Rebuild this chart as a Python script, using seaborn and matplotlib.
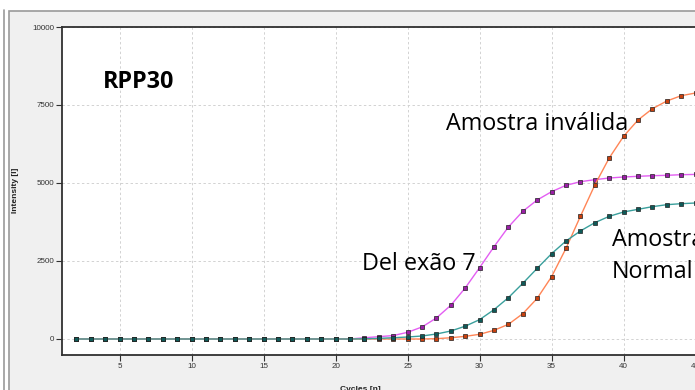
import numpy as np
import pandas as pd
import matplotlib
matplotlib.use("Agg")
import matplotlib.pyplot as plt
from matplotlib.patches import Rectangle
from matplotlib.lines import Line2D
import seaborn as sns

# Amplification curves for the RPP30 target
cycles = list(range(2, 46))

del_exao7 = [0] * 20 + [40, 75, 110, 214, 385, 673, 1080, 1635, 2286, 2958,
                        3590, 4093, 4455, 4722, 4925, 5042, 5106, 5160, 5192,
                        5214, 5234, 5246, 5266, 5275]
amostra_invalida = [0] * 25 + [10, 40, 85, 150, 278, 470, 812, 1303, 1998,
                               2906, 3931, 4935, 5801, 6497, 7019, 7381, 7628,
                               7798, 7885]
amostra_normal = [0] * 20 + [5, 20, 40, 64, 96, 160, 256, 410, 620, 940, 1325,
                             1784, 2265, 2735, 3141, 3462, 3728, 3931, 4071,
                             4156, 4241, 4305, 4337, 4359]

series_names = ["Del exão 7", "Amostra inválida", "Amostra Normal"]
line_colors = ["#e35ef2", "#ff8556", "#3a9f9c"]
marker_fills = ["#9a1ea6", "#c8400e", "#0f5a58"]

y_ticks = [0, 2500, 5000, 7500, 10000]
x_ticks = [5, 10, 15, 20, 25, 30, 35, 40, 45]

df = pd.DataFrame({
    "cycle": cycles * 3,
    "intensity": del_exao7 + amostra_invalida + amostra_normal,
    "sample": [series_names[0]] * len(cycles)
              + [series_names[1]] * len(cycles)
              + [series_names[2]] * len(cycles),
})

sns.set_theme(style="white")
plt.rcParams["font.family"] = ["DejaVu Sans"]

W, H = 695, 390
fig = plt.figure(figsize=(W / 100, H / 100), dpi=100, facecolor="white")

# window frame behind the chart
frame = Rectangle((9 / W, -0.01), 1.0, (H - 11) / H + 0.01,
                  transform=fig.transFigure, facecolor="#f0f0f0",
                  edgecolor="#9a9a9a", linewidth=1.2, zorder=-10)
fig.patches.append(frame)
fig.lines.append(Line2D([4 / W, 4 / W], [0, (H - 10) / H],
                        transform=fig.transFigure, color="#9a9a9a",
                        linewidth=1.2, zorder=-10))

ax = fig.add_axes([62 / W, 35 / H, 648 / W, 328 / H])
ax.set_zorder(5)
ax.set_facecolor("white")

for name, lc, mf in zip(series_names, line_colors, marker_fills):
    sns.lineplot(data=df[df["sample"] == name], x="cycle", y="intensity",
                 ax=ax, color=lc, linewidth=1.0, marker="s", markersize=2.6,
                 markerfacecolor=mf, markeredgecolor="#202020",
                 markeredgewidth=0.5, legend=False, zorder=3)

ax.set_xlim(1, 46)
ax.set_ylim(-513, 10000)
ax.set_xticks(x_ticks)
ax.set_yticks(y_ticks)
ax.set_xticklabels([str(t) for t in x_ticks])
ax.set_yticklabels([str(t) for t in y_ticks])
ax.tick_params(axis="both", which="major", direction="out", length=4,
               width=0.8, color="#303030", labelsize=5.8,
               labelcolor="#333333", pad=1.5, left=True, bottom=True)
for lab in ax.get_xticklabels() + ax.get_yticklabels():
    lab.set_family(["Liberation Sans", "DejaVu Sans"])

ax.grid(True, color="#d2d2d2", linestyle=(0, (2.5, 2.5)), linewidth=0.7)
ax.set_axisbelow(True)

for side in ["left", "bottom", "top"]:
    ax.spines[side].set_color("#303030")
    ax.spines[side].set_linewidth(1.3)
ax.spines["right"].set_visible(False)

ax.set_xlabel("Cycles [n]", fontsize=6, fontweight="bold", color="#222222",
              family=["Liberation Sans", "DejaVu Sans"])
ax.set_ylabel("Intensity [I]", fontsize=6, fontweight="bold", color="#222222",
              family=["Liberation Sans", "DejaVu Sans"])
ax.xaxis.set_label_coords((360 - 62) / 648, -(386 - 355) / 328)
ax.yaxis.set_label_coords(-(62 - 19) / 648, (355 - 190) / 328)

ann_font = ["Open Sans", "DejaVu Sans"]
ax.text(3.82, 8045, "RPP30", fontsize=16.8, fontweight="bold", color="black",
        family=ann_font, va="baseline", ha="left")
ax.text(27.7, 6699, "Amostra inválida", fontsize=16.8, color="black",
        family=ann_font, va="baseline", ha="left")
ax.text(21.8, 2212, "Del exão 7", fontsize=16.8, color="black",
        family=ann_font, va="baseline", ha="left")
ax.text(39.17, 2990, "Amostra", fontsize=16.8, color="black",
        family=ann_font, va="baseline", ha="left")
ax.text(39.17, 1955, "Normal", fontsize=16.8, color="black",
        family=ann_font, va="baseline", ha="left")

fig.savefig("out.png", dpi=100, facecolor=fig.get_facecolor())
